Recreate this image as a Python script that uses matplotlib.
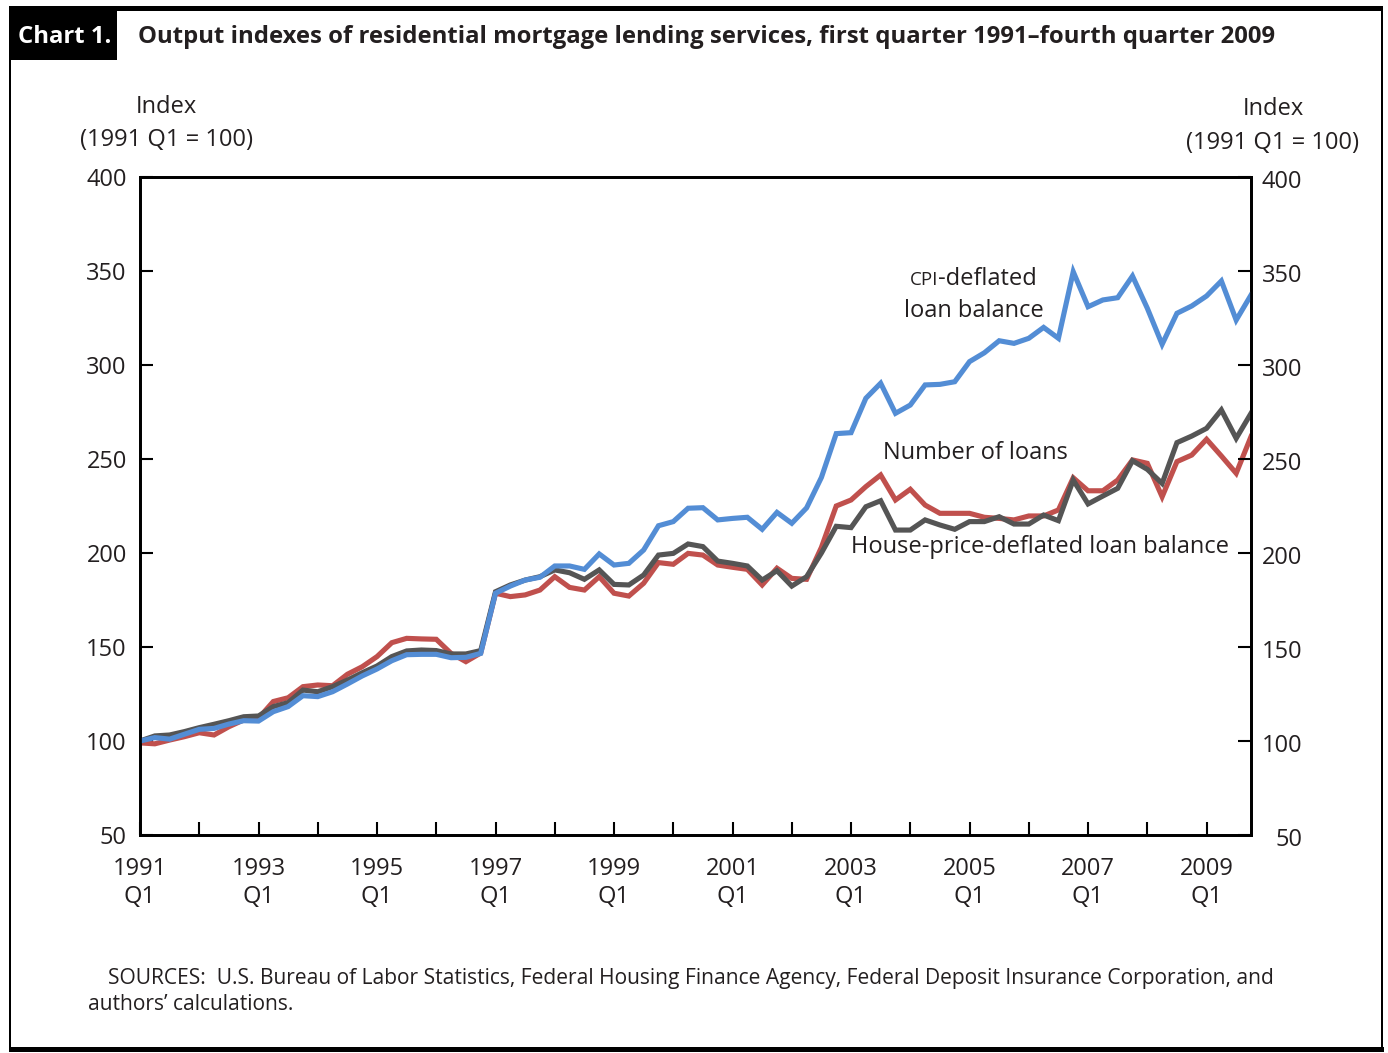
import matplotlib
matplotlib.use("Agg")
import matplotlib.pyplot as plt
from matplotlib.patches import Rectangle
from matplotlib.transforms import ScaledTranslation

# ---------------- data (quarterly, 1991 Q1 .. 2009 Q4) ----------------
start_year = 1991
cpi_deflated_balance = [
    100, 101.8, 101, 103.6, 106.2, 106.7, 109, 110.8, 110.6, 115.6,
    118.3, 124.1, 123.6, 126.2, 130.3, 134.6, 138.3, 142.7, 145.9, 146.1,
    146.1, 144.3, 144.5, 146.6, 178.6, 182.4, 185.6, 187.1, 193.1, 193.1,
    191.3, 199.5, 193.6, 194.5, 201.6, 214.5, 216.7, 223.8, 224.1, 217.6,
    218.4, 219, 212.6, 221.6, 215.8, 224, 240.2, 263.5, 264, 282.3,
    290.3, 274.3, 278.7, 289.4, 289.7, 291.1, 301.8, 306.5, 312.9, 311.5,
    314.2, 320, 314.2, 349.6, 331, 334.6, 335.8, 347.3, 330.2, 311,
    327.5, 331.4, 336.7, 344.7, 323.9, 337.2]
number_of_loans = [
    99, 98.5, 100.5, 102.3, 104.4, 103.2, 107.6, 111.2, 112.1, 121,
    123, 128.9, 129.8, 129.4, 135.5, 139.5, 144.9, 152.3, 154.6, 154.3,
    154.1, 146.6, 142.2, 146.8, 178.6, 176.8, 177.7, 180.3, 187.4, 181.7,
    180.3, 187.4, 178.6, 177.1, 183.9, 194.9, 194, 199.8, 198.9, 193.6,
    192.4, 191.3, 183, 191.9, 186.5, 186, 203, 225, 228.2, 235.3,
    241.5, 228.2, 233.9, 225.5, 221.1, 221.1, 221.1, 219, 218.4, 217.6,
    219.7, 219.7, 222.9, 240, 233.1, 233.1, 238.8, 249.5, 247.7, 229.9,
    248.6, 252.1, 260.5, 251.6, 242.4, 261.9]
house_price_deflated_balance = [
    100, 102.7, 103.2, 105, 107.1, 108.9, 110.8, 112.9, 113.3, 118.3,
    120.4, 127.1, 126.2, 128.9, 132.4, 136.3, 139.9, 144.9, 147.9, 148.4,
    148.1, 146.3, 146.3, 148.1, 179.4, 183, 185.6, 187.4, 191, 189.5,
    186, 191, 183.3, 183, 188.3, 198.9, 199.8, 204.8, 203.4, 195.7,
    194.5, 193.1, 185.6, 190.6, 182.4, 187.4, 200, 214.2, 213.5, 224.6,
    227.8, 212.2, 212.2, 217.6, 214.9, 212.6, 216.7, 216.7, 219.3, 215.4,
    215.4, 220.2, 217.2, 238.8, 226.1, 230.3, 234.4, 249.1, 244.5, 237,
    258.7, 262.2, 266.3, 276.1, 261, 274.3]
y_ticks = [50, 100, 150, 200, 250, 300, 350, 400]
x_tick_years = list(range(1991, 2010))
x_label_years = list(range(1991, 2010, 2))

# ---------------- styling ----------------
W, H = 1388, 1053
DPI = 100
TXT = "#231f20"
FONT = "Open Sans"
plt.rcParams["font.family"] = [FONT, "DejaVu Sans"]
plt.rcParams["text.color"] = TXT

def fx(x):
    return x / W

def fy(y):
    return 1 - y / H

fig = plt.figure(figsize=(W / DPI, H / DPI), dpi=DPI)
fig.patch.set_facecolor("white")

# frame
fig.add_artist(Rectangle((fx(9), fy(11)), fx(1382) - fx(9), fy(6) - fy(11),
                         transform=fig.transFigure, color="black", lw=0))
fig.add_artist(Rectangle((fx(9), fy(60)), fx(117) - fx(9), fy(6) - fy(60),
                         transform=fig.transFigure, color="black", lw=0))
fig.add_artist(Rectangle((fx(9), fy(1052)), fx(1384) - fx(9), fy(1047) - fy(1052),
                         transform=fig.transFigure, color="black", lw=0))
fig.add_artist(Rectangle((fx(9), fy(1050)), fx(11) - fx(9), fy(6) - fy(1050),
                         transform=fig.transFigure, color="black", lw=0))
fig.add_artist(Rectangle((fx(1381), fy(1050)), fx(1383) - fx(1381), fy(6) - fy(1050),
                         transform=fig.transFigure, color="black", lw=0))

fig.text(fx(18), fy(43), "Chart 1.", color="white", fontsize=17.2, fontweight="bold",
         va="baseline", ha="left")
fig.text(fx(138), fy(43),
         "Output indexes of residential mortgage lending services, first quarter 1991\u2013fourth quarter 2009",
         fontsize=17.2, fontweight="bold", va="baseline", ha="left", color=TXT)

# axes
ax = fig.add_axes([fx(140), fy(835), fx(1251) - fx(140), fy(177) - fy(835)])
n = len(cpi_deflated_balance)
xs = list(range(n))
ax.plot(xs, number_of_loans, color="#c0504d", lw=3.7, solid_joinstyle="miter", zorder=2)
ax.plot(xs, house_price_deflated_balance, color="#555555", lw=3.7, solid_joinstyle="miter", zorder=3)
ax.plot(xs, cpi_deflated_balance, color="#538dd5", lw=3.7, solid_joinstyle="miter", zorder=4)

ax.set_xlim(0, n - 1)
ax.set_ylim(50, 400)
for s in ax.spines.values():
    s.set_linewidth(2.0)
    s.set_color("black")

tick_pos = [(y - start_year) * 4 for y in x_tick_years]
tick_lab = [f"{y}\nQ1" if y in x_label_years else "" for y in x_tick_years]
ax.set_xticks(tick_pos)
ax.set_xticklabels(tick_lab, fontsize=17, linespacing=1.22, color=TXT)
ax.set_yticks(y_ticks)
ax.set_yticklabels([str(v) for v in y_ticks], fontsize=17, color=TXT)
ax.tick_params(axis="both", direction="in", length=9.4, width=1.5, color="black")
ax.tick_params(axis="x", pad=16)
ax.tick_params(axis="y", pad=9.5)

ax2 = ax.twinx()
ax2.set_ylim(ax.get_ylim())
ax2.set_yticks(y_ticks)
ax2.set_yticklabels([str(v) for v in y_ticks], fontsize=17, color=TXT)
ax2.tick_params(axis="y", direction="in", length=9.4, width=1.5, color="black", pad=37)
shift = ScaledTranslation(0, -2.5 / DPI, fig.dpi_scale_trans)
for lab in ax2.get_yticklabels():
    lab.set_horizontalalignment("right")
    lab.set_transform(lab.get_transform() + shift)
for s in ax2.spines.values():
    s.set_linewidth(2.0)

# axis titles
fig.text(fx(166), fy(113), "Index", fontsize=17, ha="center", va="baseline")
fig.text(fx(166), fy(146), "(1991 Q1 = 100)", fontsize=17, ha="center", va="baseline")
fig.text(fx(1273), fy(115), "Index", fontsize=17, ha="center", va="baseline")
fig.text(fx(1272), fy(149), "(1991 Q1 = 100)", fontsize=17, ha="center", va="baseline")

# series labels
t_cpi = fig.text(fx(910), fy(285), "CPI", fontsize=13.5, ha="left", va="baseline")
ax.annotate("-deflated", xy=(1, fy(285)), xycoords=(t_cpi, "figure fraction"),
            fontsize=17, ha="left", va="baseline")
fig.text(fx(974), fy(317), "loan balance", fontsize=17, ha="center", va="baseline")
fig.text(fx(975), fy(459), "Number of loans", fontsize=17, ha="center", va="baseline")
fig.text(fx(851), fy(553), "House-price-deflated loan balance", fontsize=17,
         ha="left", va="baseline")

# sources
fig.text(fx(108), fy(984),
         "SOURCES:  U.S. Bureau of Labor Statistics, Federal Housing Finance Agency, Federal Deposit Insurance Corporation, and",
         fontsize=15.15, ha="left", va="baseline")
fig.text(fx(88), fy(1010), "authors\u2019 calculations.", fontsize=15.15, ha="left", va="baseline")

fig.savefig("out.png", dpi=DPI, facecolor="white")
